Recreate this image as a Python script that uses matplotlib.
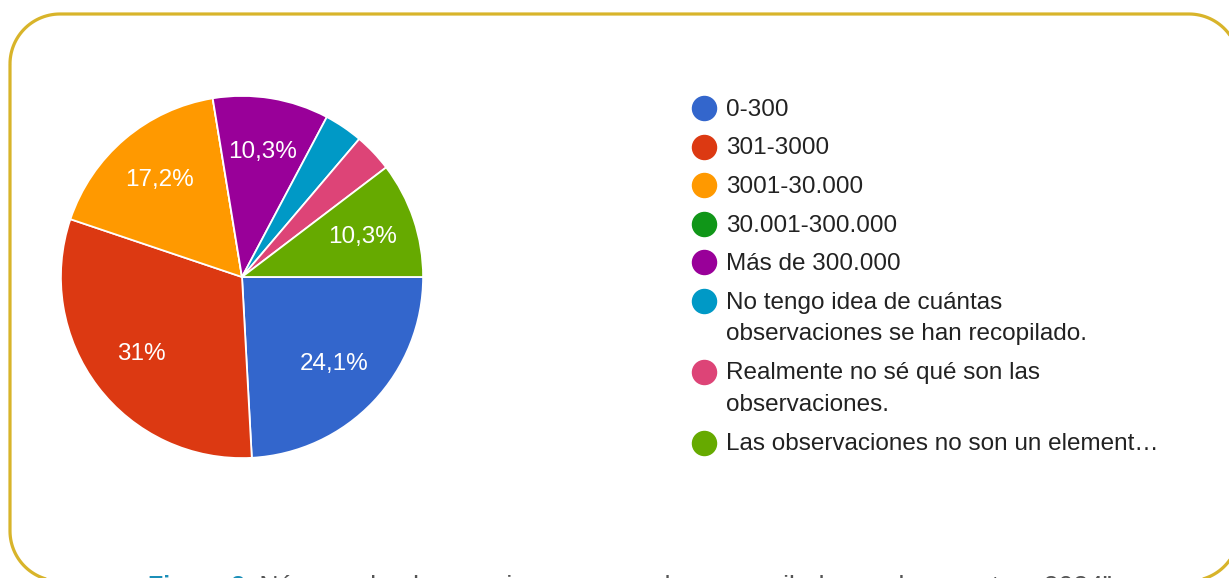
import numpy as np
import matplotlib.pyplot as plt
from matplotlib.patches import Polygon

plt.rcParams['font.family'] = ['Liberation Sans', 'DejaVu Sans']

# answers (29 responses)
categories = ['0-300', '301-3000', '3001-30.000', '30.001-300.000',
              'Más de 300.000',
              'No tengo idea de cuántas\nobservaciones se han recopilado.',
              'Realmente no sé qué son las\nobservaciones.',
              'Las observaciones no son un element…']
counts = [7, 9, 5, 0, 3, 1, 1, 3]
colors = ['#3366CC', '#DC3912', '#FF9900', '#109618',
          '#990099', '#0099C6', '#DD4477', '#66AA00']
caption_num = 'Figura 3.'
caption_txt = ' Número de observaciones que se han recopilado en el proyecto a 2024”'

W, H = 1229, 578
fig = plt.figure(figsize=(W / 100, H / 100), dpi=100)

# overlay in pixel coords (y down) for frame, legend, caption
bg = fig.add_axes([0, 0, 1, 1])
bg.set_xlim(0, W)
bg.set_ylim(H, 0)
bg.axis('off')

# rounded frame, right and bottom edges run off the picture
x0, y0, x1, y1, rad = 10, 14, 1239, 581, 50
t = np.linspace(0, np.pi / 2, 30)
fx = np.concatenate([x0 + rad - rad * np.cos(t), x1 - rad + rad * np.sin(t),
                     x1 - rad + rad * np.cos(t), x0 + rad - rad * np.sin(t)])
fy = np.concatenate([y0 + rad - rad * np.sin(t), y0 + rad - rad * np.cos(t),
                     y1 - rad + rad * np.sin(t), y1 - rad + rad * np.cos(t)])
bg.add_patch(Polygon(np.column_stack([fx, fy]), closed=True, fill=False,
                     edgecolor='#D8B42A', lw=2.3, joinstyle='round'))


def fmt(p):
    if p < 5:
        return ''
    s = f'{p:.1f}'
    if s.endswith('.0'):
        s = s[:-2]
    return s.replace('.', ',') + '%'


cx, cy, r = 242, 277, 182
ax = fig.add_axes([(cx - r) / W, (H - cy - r) / H, 2 * r / W, 2 * r / H])
wedges, texts, autotexts = ax.pie(counts, colors=colors, startangle=0,
                                  counterclock=False, autopct=fmt,
                                  pctdistance=0.7,
                                  wedgeprops=dict(edgecolor='white', linewidth=1.3))
for tx in autotexts:
    tx.set_color('white')
    tx.set_fontsize(17.5)
ax.set_xlim(-1.005, 1.005)
ax.set_ylim(-1.005, 1.005)

# legend
y = 108
for cat, col in zip(categories, colors):
    bg.scatter([704], [y], s=300, color=col, zorder=3)
    bg.text(726, y - 9, cat, fontsize=17.5, color='#222222', va='top',
            linespacing=1.55)
    nlines = cat.count('\n')
    y += 38.5 + nlines * 32.5

# caption, mostly cut off by the bottom edge
cap = bg.text(148, 575, caption_num, fontsize=18, color='#1B8FB8',
              va='top', fontweight='bold')
rest = bg.annotate(caption_txt, xy=(1, 1), xycoords=cap, va='top', ha='left',
                   fontsize=18, color='#555555')
fig.canvas.draw()
c1 = cap.get_window_extent().x1
rest.set_fontsize(18 * (1112 - c1) / (rest.get_window_extent().x1 - c1))

fig.savefig('out.png', dpi=100)
